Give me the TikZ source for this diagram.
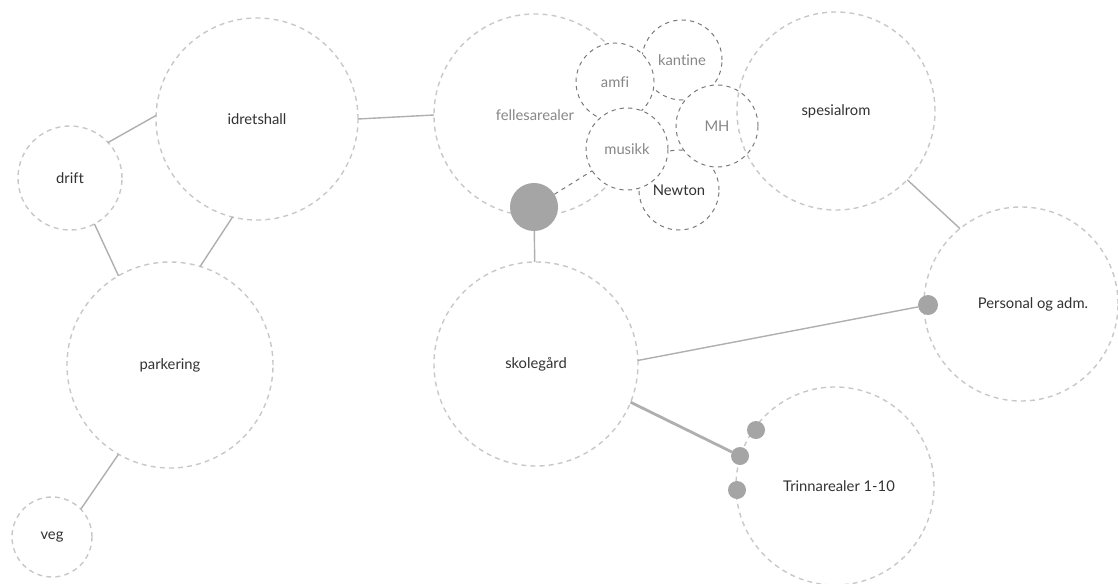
\documentclass[tikz,border=0pt]{standalone}
\usepackage{fontspec}
\setmainfont{Lato}[Ligatures=NoCommon]
\usetikzlibrary{positioning}
\definecolor{ringgray}{RGB}{200, 200, 200}
\definecolor{roomgray}{RGB}{120, 120, 120}
\definecolor{linkgray}{RGB}{175, 175, 175}
\definecolor{hubgray}{RGB}{165, 165, 165}
\definecolor{textdark}{RGB}{50, 50, 50}
\definecolor{textlight}{RGB}{135, 135, 135}

\begin{document}
\begin{tikzpicture}[x=0.025cm, y=-0.025cm,
    area/.style={draw=ringgray, circle, dashed, line width=1pt, dash pattern=on 3.5pt off 3pt, minimum size=#1, inner sep=0pt, outer sep=0pt, text=textdark, font=\fontsize{10.5}{12}\selectfont},
    room/.style={draw=roomgray, circle, dashed, line width=0.7pt, dash pattern=on 3pt off 3pt, fill=white, minimum size=#1, inner sep=0pt, outer sep=0pt, text=textlight, font=\fontsize{10.5}{12}\selectfont},
    hub/.style={circle, fill=hubgray, minimum size=#1, inner sep=0pt, outer sep=0pt},
    link/.style={draw=linkgray, line width=1pt}]
                \useasboundingbox (0,0) rectangle (1118,584);

                % Left side
                \node[area=5.05cm] (idretshall) at (257,119) {idretshall};
                \node[area=2.6cm] (drift) at (70,178) {drift};
                \node[area=5.15cm] (parkering) at (170,365) {parkering};
                \node[area=2.0cm] (veg) at (52,537) {veg};

                % Shared areas and rooms
                \node[area=5.05cm, text=textlight] (fellesarealer) at (535,115) {fellesarealer};
                \node[room=2.0cm, text=textdark] (newton) at (679,190) {Newton};
                \node[room=2.0cm] (kantine) at (682,60) {kantine};
                \node[room=1.95cm] (amfi) at (615,82) {amfi};
                \node[room=2.05cm] (mh) at (717,126) {MH};
                \node[room=2.05cm] (musikk) at (627,149) {musikk};
                \node[hub=1.2cm] (hub) at (534,207) {};

                \node[area=5.1cm] (skolegaard) at (536,364) {skolegård};
                \node[area=4.95cm] (spesialrom) at (836,111) {spesialrom};
                \node[area=4.85cm] (personal) at (1021,304) {\hspace*{0.6cm}Personal og adm.};
                \node[area=4.95cm] (trinn) at (835,486) {\hspace*{0.2cm}Trinnarealer 1-10};

                % Entry points
                \node[hub=0.5cm] (pdot) at (928,305) {};
                \node[hub=0.45cm] (tdot1) at (756,430) {};
                \node[hub=0.45cm] (tdot2) at (740,456) {};
                \node[hub=0.45cm] (tdot3) at (737,490) {};

                % Links
                \draw[link] (idretshall.east) -- (fellesarealer.west);
                \draw[link] (drift.43) -- (idretshall.178);
                \draw[link] (drift.-62) -- (parkering.120);
                \draw[link] (idretshall.256) -- (parkering.73);
                \draw[link] (parkering.240) -- (veg.44);
                \draw[link] (hub) -- (skolegaard);
                \draw[draw=roomgray, dashed, line width=0.7pt, dash pattern=on 3pt off 3pt] (hub) -- (musikk);
                \draw[link] (skolegaard.2) -- (pdot);
                \draw[link, line width=2pt] (skolegaard.-22) -- (tdot2);
                \draw[link] (spesialrom.-44) -- (personal.129);
            \end{tikzpicture}
\end{document}
